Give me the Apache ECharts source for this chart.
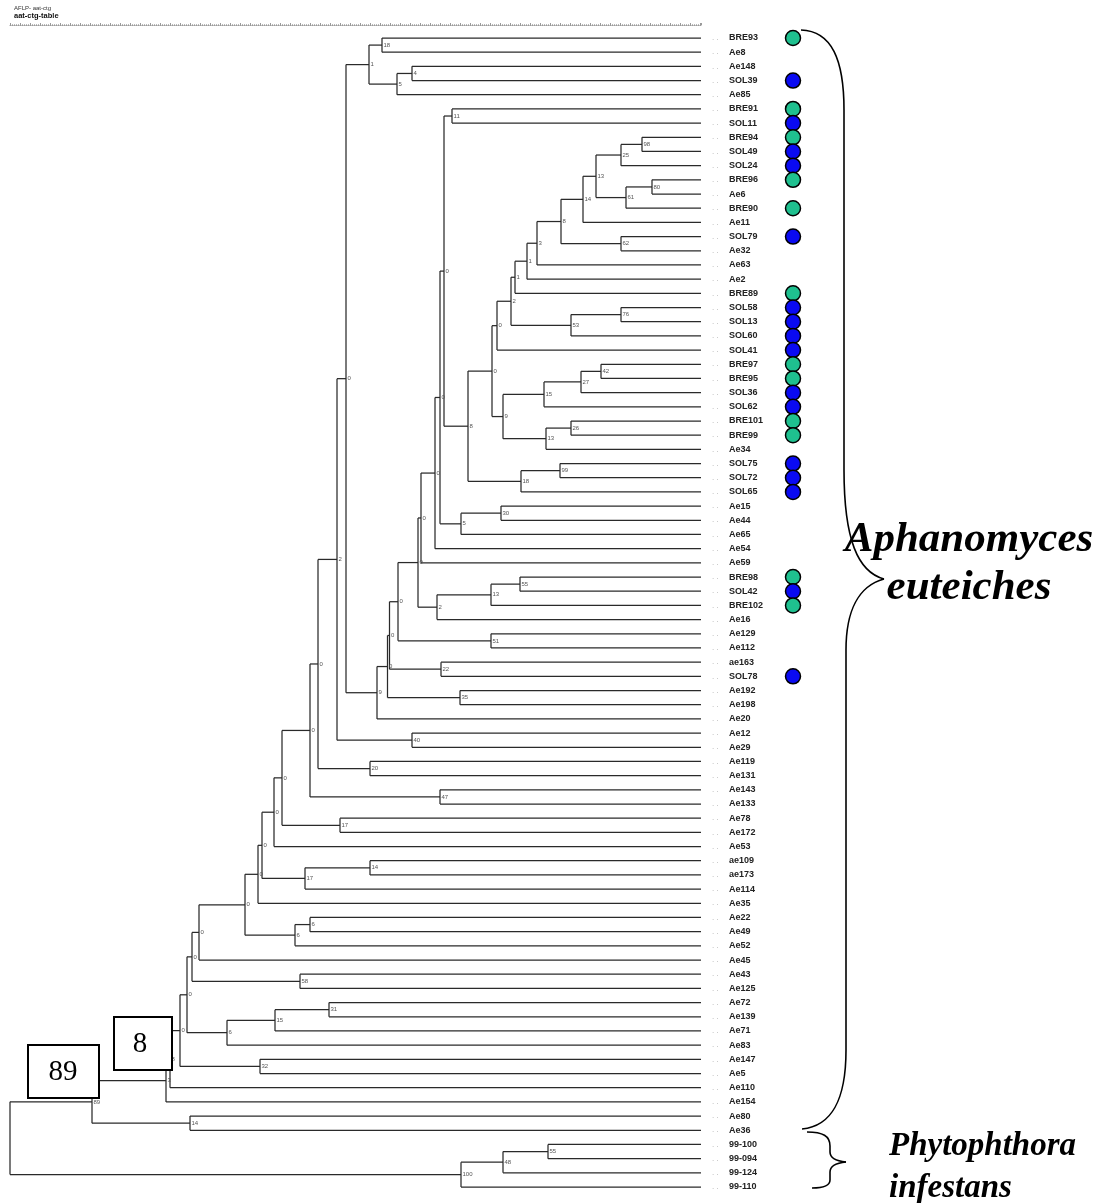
<!DOCTYPE html>
<html>
<head>
<meta charset="utf-8">
<script src="https://cdn.jsdelivr.net/npm/echarts@6/dist/echarts.min.js"></script>
<style>
html,body{margin:0;padding:0;background:#fff;}
#chart{width:1107px;height:1203px;}
</style>
</head>
<body>
<div id="chart"></div>
<script>
// ---------------- DATA ----------------
const leafNames = [
  'BRE93','Ae8','Ae148','SOL39','Ae85','BRE91','SOL11','BRE94','SOL49','SOL24',
  'BRE96','Ae6','BRE90','Ae11','SOL79','Ae32','Ae63','Ae2','BRE89','SOL58',
  'SOL13','SOL60','SOL41','BRE97','BRE95','SOL36','SOL62','BRE101','BRE99','Ae34',
  'SOL75','SOL72','SOL65','Ae15','Ae44','Ae65','Ae54','Ae59','BRE98','SOL42',
  'BRE102','Ae16','Ae129','Ae112','ae163','SOL78','Ae192','Ae198','Ae20','Ae12',
  'Ae29','Ae119','Ae131','Ae143','Ae133','Ae78','Ae172','Ae53','ae109','ae173',
  'Ae114','Ae35','Ae22','Ae49','Ae52','Ae45','Ae43','Ae125','Ae72','Ae139',
  'Ae71','Ae83','Ae147','Ae5','Ae110','Ae154','Ae80','Ae36','99-100','99-094',
  '99-124','99-110'
];
// isolates marked with a circle (origin group)
const markedLeaves = [
  'BRE93','SOL39','BRE91','SOL11','BRE94','SOL49','SOL24','BRE96','BRE90','SOL79',
  'BRE89','SOL58','SOL13','SOL60','SOL41','BRE97','BRE95','SOL36','SOL62','BRE101',
  'BRE99','SOL75','SOL72','SOL65','BRE98','SOL42','BRE102','SOL78'
];
// internal nodes: name, height (distance units on the tree axis), two children, support value
const nodeNames = [
  'n18','n4','n5','n1','n11','n98','n25','n80','n61','n13a',
  'n14a','n62','n8a','n3a','nA','nB','n76','n53','nC','nD',
  'n42','n27','n15a','n26','n13b','nE','nF','n99','n18b','nG',
  'nH','n30','n5b','nI','nJ','nK','n55','n13c','n2','nL',
  'n51','nM','n22','nN','n35','nO','n9','nP','n40','nQ',
  'n20','nR','n47','nS','n17a','nT','nU','n14b','n17b','nV',
  'nW','n6a','n6b','nX','nY','n58','nZ','n31','n15b','n6c',
  'nAA','n32','nBB','nCC','nDD','n14c','n89','n55b','n48','n100',
  'root'
];
const nodeHeights = [
  382,412,397,369,452,642,621,652,626,596,
  583,621,561,537,527,515,621,571,511,497,
  601,581,544,571,546,503,492,560,521,468,
  444,501,461,440,435,421,520,491,437,418,
  491,398,441,389.5,460,387.5,377,346,412,337,
  370,318,440,310,340,282,274,370,305,262,
  258,310,295,245,199,300,192,329,275,227,
  187,260,180,170,166,190,92,548,503,461,
  10
];
const nodeChildren = [
  ['BRE93','Ae8'],['Ae148','SOL39'],['n4','Ae85'],['n18','n5'],['BRE91','SOL11'],
  ['BRE94','SOL49'],['n98','SOL24'],['BRE96','Ae6'],['n80','BRE90'],['n25','n61'],
  ['n13a','Ae11'],['SOL79','Ae32'],['n14a','n62'],['n8a','Ae63'],['n3a','Ae2'],
  ['nA','BRE89'],['SOL58','SOL13'],['n76','SOL60'],['nB','n53'],['nC','SOL41'],
  ['BRE97','BRE95'],['n42','SOL36'],['n27','SOL62'],['BRE101','BRE99'],['n26','Ae34'],
  ['n15a','n13b'],['nD','nE'],['SOL75','SOL72'],['n99','SOL65'],['nF','n18b'],
  ['n11','nG'],['Ae15','Ae44'],['n30','Ae65'],['nH','n5b'],['nI','Ae54'],
  ['nJ','Ae59'],['BRE98','SOL42'],['n55','BRE102'],['n13c','Ae16'],['nK','n2'],
  ['Ae129','Ae112'],['nL','n51'],['ae163','SOL78'],['nM','n22'],['Ae192','Ae198'],
  ['nN','n35'],['nO','Ae20'],['n1','n9'],['Ae12','Ae29'],['nP','n40'],
  ['Ae119','Ae131'],['nQ','n20'],['Ae143','Ae133'],['nR','n47'],['Ae78','Ae172'],
  ['nS','n17a'],['nT','Ae53'],['ae109','ae173'],['n14b','Ae114'],['nU','n17b'],
  ['nV','Ae35'],['Ae22','Ae49'],['n6a','Ae52'],['nW','n6b'],['nX','Ae45'],
  ['Ae43','Ae125'],['nY','n58'],['Ae72','Ae139'],['n31','Ae71'],['n15b','Ae83'],
  ['nZ','n6c'],['Ae147','Ae5'],['nAA','n32'],['nBB','Ae110'],['nCC','Ae154'],
  ['Ae80','Ae36'],['nDD','n14c'],['99-100','99-094'],['n55b','99-124'],['n48','99-110'],
  ['n89','n100']
];
const nodeSupport = [
  '18','4','5','1','11','98','25','80','61','13',
  '14','62','8','3','1','1','76','53','2','0',
  '42','27','15','26','13','9','0','99','18','8',
  '0','30','5','0','0','0','55','13','2','0',
  '51','0','22','0','35','0','9','0','40','2',
  '20','0','47','0','17','0','0','14','17','0',
  '0','6','6','0','0','58','0','31','15','6',
  '0','32','0','8','3','14','89','55','48','100',
  ''
];
const tipHeight = 701;
const groupColors = { BRE: '#1fc08f', SOL: '#0a0af2' };

// ---------------- LAYOUT (from data) ----------------
const leafIndex = {};
leafNames.forEach((n, i) => { leafIndex[n] = i; });
const nodeIndex = {};
nodeNames.forEach((n, i) => { nodeIndex[n] = i; });
const yCache = {};
function posY(name) {
  if (name in leafIndex) return leafIndex[name];
  if (name in yCache) return yCache[name];
  const ch = nodeChildren[nodeIndex[name]];
  const v = (posY(ch[0]) + posY(ch[1])) / 2;
  yCache[name] = v;
  return v;
}
function posX(name) {
  if (name in leafIndex) return tipHeight;
  return nodeHeights[nodeIndex[name]];
}
const treeData = nodeNames.map((n, i) => [nodeHeights[i], posY(n), i]);

const circleX = 793;
const circleData = markedLeaves.map(n => ({
  value: [circleX, leafIndex[n]],
  itemStyle: { color: groupColors[n.slice(0, 3)] }
}));

// ---------------- ANNOTATION HELPERS ----------------
const braceStyle = { stroke: '#000', fill: null, lineWidth: 1.6 };
function bez(p0, c1, c2, p1) {
  return { type: 'bezierCurve', shape: { x1: p0[0], y1: p0[1], cpx1: c1[0], cpy1: c1[1], cpx2: c2[0], cpy2: c2[1], x2: p1[0], y2: p1[1] }, style: braceStyle };
}
function seg(p0, p1) {
  return { type: 'line', shape: { x1: p0[0], y1: p0[1], x2: p1[0], y2: p1[1] }, style: braceStyle };
}
const braceBig = [
  bez([801, 30], [832, 31], [844, 60], [844, 110]),
  seg([844, 110], [844, 470]),
  bez([844, 470], [844, 540], [858, 572], [884, 579]),
  bez([884, 579], [858, 586], [846, 612], [846, 650]),
  seg([846, 650], [846, 1050]),
  bez([846, 1050], [846, 1100], [832, 1126], [802, 1129])
];
const braceSmall = [
  bez([807, 1132], [823, 1132], [830, 1136], [830, 1146]),
  seg([830, 1146], [830, 1152]),
  bez([830, 1152], [830, 1158], [836, 1161], [846, 1162]),
  bez([846, 1162], [836, 1163], [830, 1166], [830, 1172]),
  seg([830, 1172], [830, 1180]),
  bez([830, 1180], [830, 1186], [823, 1188], [812, 1188])
];

// ---------------- CHART ----------------
const chart = echarts.init(document.getElementById('chart'), null, { renderer: 'canvas' });
const lineColor = '#2a2a2a';

const option = {
  backgroundColor: '#ffffff',
  animation: false,
  title: [
    { text: 'AFLP- aat-ctg', left: 14, top: 5, padding: 0, textStyle: { fontSize: 6, fontWeight: 'normal', color: '#333', fontFamily: 'Liberation Sans' } },
    { text: 'aat-ctg-table', left: 14, top: 12, padding: 0, textStyle: { fontSize: 7.5, fontWeight: 'bold', color: '#111', fontFamily: 'Liberation Sans' } }
  ],
  grid: { left: 10, top: 38, width: 691, height: 1149 },
  xAxis: {
    type: 'value', min: 10, max: 701, interval: 10, position: 'top', offset: 13,
    axisLine: { show: true, onZero: false, lineStyle: { color: '#9a9a9a', type: 'dotted', width: 1 } },
    axisTick: { show: true, length: 2, lineStyle: { color: '#9a9a9a' } },
    minorTick: { show: true, splitNumber: 5, length: 1, lineStyle: { color: '#bbb' } },
    axisLabel: { show: false },
    splitLine: { show: false }
  },
  yAxis: {
    type: 'value', min: 0, max: 81, interval: 1, inverse: true, position: 'right',
    axisLine: { show: false }, axisTick: { show: false }, splitLine: { show: false },
    axisLabel: {
      show: true, margin: 11, align: 'left',
      formatter: v => (leafNames[v] !== undefined ? '{d|. .}{n|' + leafNames[v] + '}' : ''),
      rich: {
        d: { fontSize: 8, color: '#aaa', fontFamily: 'Liberation Sans', width: 17 },
        n: { fontSize: 9, color: '#222', fontWeight: 'bold', fontFamily: 'Liberation Sans' }
      }
    }
  },
  series: [
    {
      type: 'custom',
      name: 'tree',
      clip: false,
      data: treeData,
      encode: { x: 0, y: 1 },
      renderItem: function (params, api) {
        const i = api.value(2);
        const name = nodeNames[i];
        const p = api.coord([nodeHeights[i], posY(name)]);
        const ch = nodeChildren[i];
        const c0 = api.coord([posX(ch[0]), posY(ch[0])]);
        const c1 = api.coord([posX(ch[1]), posY(ch[1])]);
        const style = { stroke: lineColor, lineWidth: 1.25 };
        const kids = [
          { type: 'line', shape: { x1: p[0], y1: c0[1], x2: p[0], y2: c1[1] }, style: style },
          { type: 'line', shape: { x1: p[0], y1: c0[1], x2: c0[0], y2: c0[1] }, style: style },
          { type: 'line', shape: { x1: p[0], y1: c1[1], x2: c1[0], y2: c1[1] }, style: style }
        ];
        if (nodeSupport[i]) {
          kids.push({
            type: 'text',
            style: { x: p[0] + 1.5, y: p[1], text: nodeSupport[i], fill: '#555', fontSize: 6, fontFamily: 'Liberation Sans', verticalAlign: 'middle' }
          });
        }
        return { type: 'group', children: kids };
      },
      z: 2
    },
    {
      type: 'scatter',
      name: 'isolates',
      clip: false,
      symbol: 'circle',
      symbolSize: 15,
      data: circleData,
      itemStyle: { borderColor: '#000', borderWidth: 1.5, opacity: 1 },
      z: 3
    }
  ],
  graphic: [
    ...braceBig,
    ...braceSmall,
    { type: 'text', style: { x: 969, y: 561, text: 'Aphanomyces', textAlign: 'center', textVerticalAlign: 'bottom', font: 'italic bold 43px "Liberation Serif"', fill: '#000' } },
    { type: 'text', style: { x: 969, y: 609, text: 'euteiches', textAlign: 'center', textVerticalAlign: 'bottom', font: 'italic bold 43px "Liberation Serif"', fill: '#000' } },
    { type: 'text', style: { x: 889, y: 1163, text: 'Phytophthora', textAlign: 'left', textVerticalAlign: 'bottom', font: 'italic bold 33px "Liberation Serif"', fill: '#000' } },
    { type: 'text', style: { x: 889, y: 1205, text: 'infestans', textAlign: 'left', textVerticalAlign: 'bottom', font: 'italic bold 33px "Liberation Serif"', fill: '#000' } },
    // highlighted support values
    { type: 'rect', shape: { x: 28, y: 1045, width: 71, height: 53 }, style: { stroke: '#000', fill: '#fff', lineWidth: 2 }, z: 10 },
    { type: 'text', style: { x: 63, y: 1072, text: '89', textAlign: 'center', textVerticalAlign: 'middle', font: '29px "Liberation Serif"', fill: '#000' }, z: 11 },
    { type: 'rect', shape: { x: 114, y: 1017, width: 58, height: 53 }, style: { stroke: '#000', fill: '#fff', lineWidth: 2 }, z: 10 },
    { type: 'text', style: { x: 140, y: 1044, text: '8', textAlign: 'center', textVerticalAlign: 'middle', font: '29px "Liberation Serif"', fill: '#000' }, z: 11 }
  ]
};
chart.setOption(option);
</script>
</body>
</html>
